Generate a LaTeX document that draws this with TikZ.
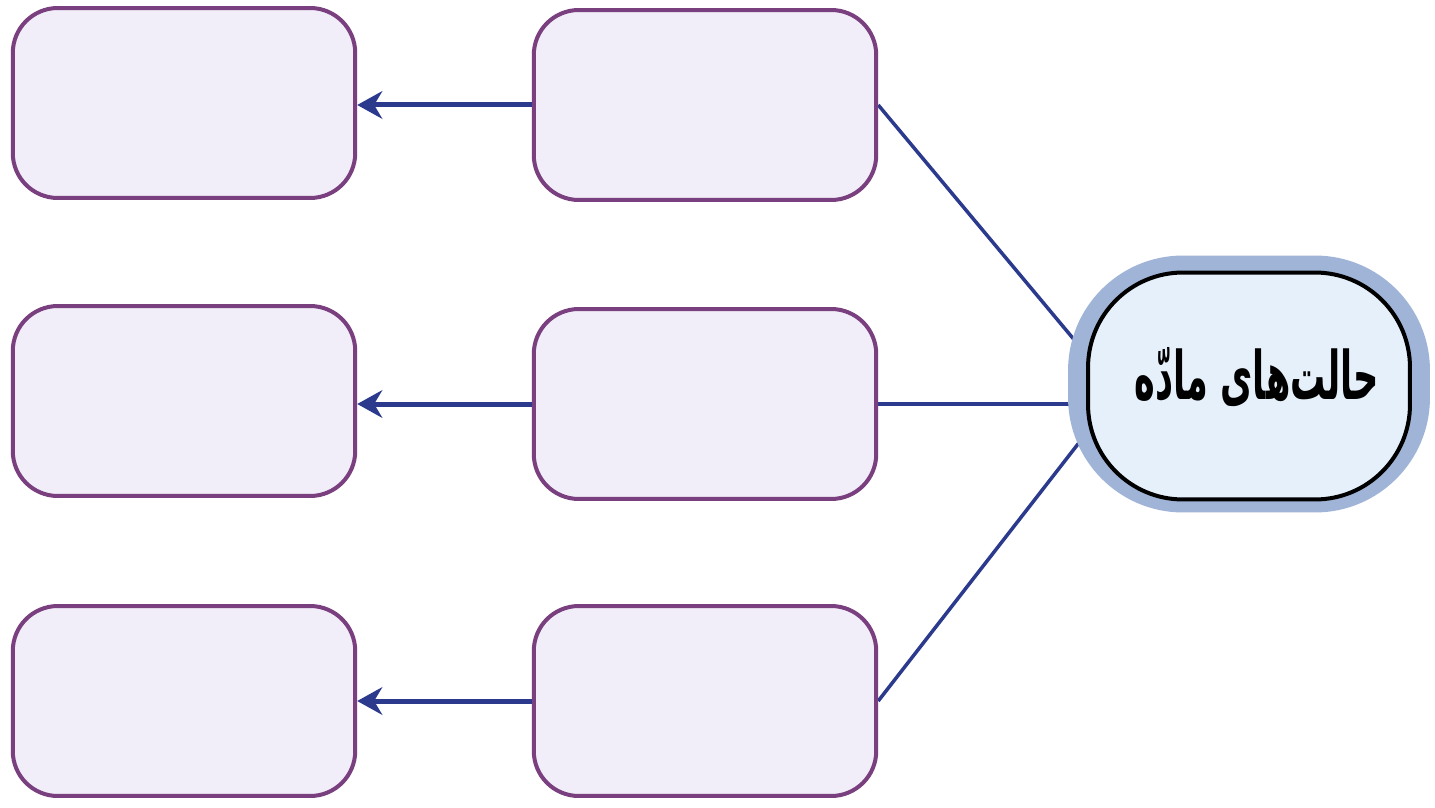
\documentclass[tikz,border=0pt]{standalone}
\usepackage{fontspec}
\newfontfamily\arabicfont[Script=Arabic]{DejaVu Sans}
\TeXXeTstate=1
\usetikzlibrary{arrows.meta,backgrounds}
\definecolor{boxline}{HTML}{7A3F7E}
\definecolor{boxfill}{HTML}{F1EDF9}
\definecolor{linkblue}{HTML}{2B3A8C}
\definecolor{ringblue}{HTML}{9FB4D6}
\definecolor{matterfill}{HTML}{E6F0FA}

\begin{document}
\begin{tikzpicture}[x=0.02cm,y=-0.02cm,
  box/.style={draw=boxline,fill=boxfill,line width=0.08cm,rounded corners=0.9cm,
    minimum width=6.85cm,minimum height=3.8cm},
  arr/.style={draw=linkblue,line width=0.1cm,-{Stealth[length=0.5cm,width=0.55cm]}},
  link/.style={draw=linkblue,line width=0.07cm,shorten >=-0.6cm}]
\useasboundingbox (0,0) rectangle (1435,807);

% boxes, left and middle column
\node[box] (s1) at (184,103) {};
\node[box] (s2) at (184,401) {};
\node[box] (s3) at (184,701) {};
\node[box] (p1) at (705,105) {};
\node[box] (p2) at (705,404) {};
\node[box] (p3) at (705,701) {};

% states of matter
\node[inner sep=0pt,fill=ringblue,rounded corners=2.3cm,minimum width=7.24cm,minimum height=5.14cm] (r) at (1249,384) {};
\node[inner sep=0pt,draw=black,line width=0.08cm,fill=matterfill,rounded corners=1.9cm,minimum width=6.44cm,minimum height=4.54cm] (m) at (1249,386) {};
\node[inner sep=0pt] (t) at (1257,377)
  {\scalebox{1}[1.9]{\arabicfont\bfseries\fontsize{20}{24}\selectfont\beginR حالت‌های مادّه\endR}};

\begin{pgfonlayer}{background}
\fill[white] (0,0) rectangle (1435,807);
\draw[link] (p1.east) -- (r.164);
\draw[link] (p2.east) -- (p2.east -| r.west);
\draw[link] (p3.east) -- (r.202);
\end{pgfonlayer}

\draw[arr] (p1.west) -- (p1.west -| s1.east);
\draw[arr] (p2.west) -- (p2.west -| s2.east);
\draw[arr] (p3.west) -- (p3.west -| s3.east);
\end{tikzpicture}
\end{document}
